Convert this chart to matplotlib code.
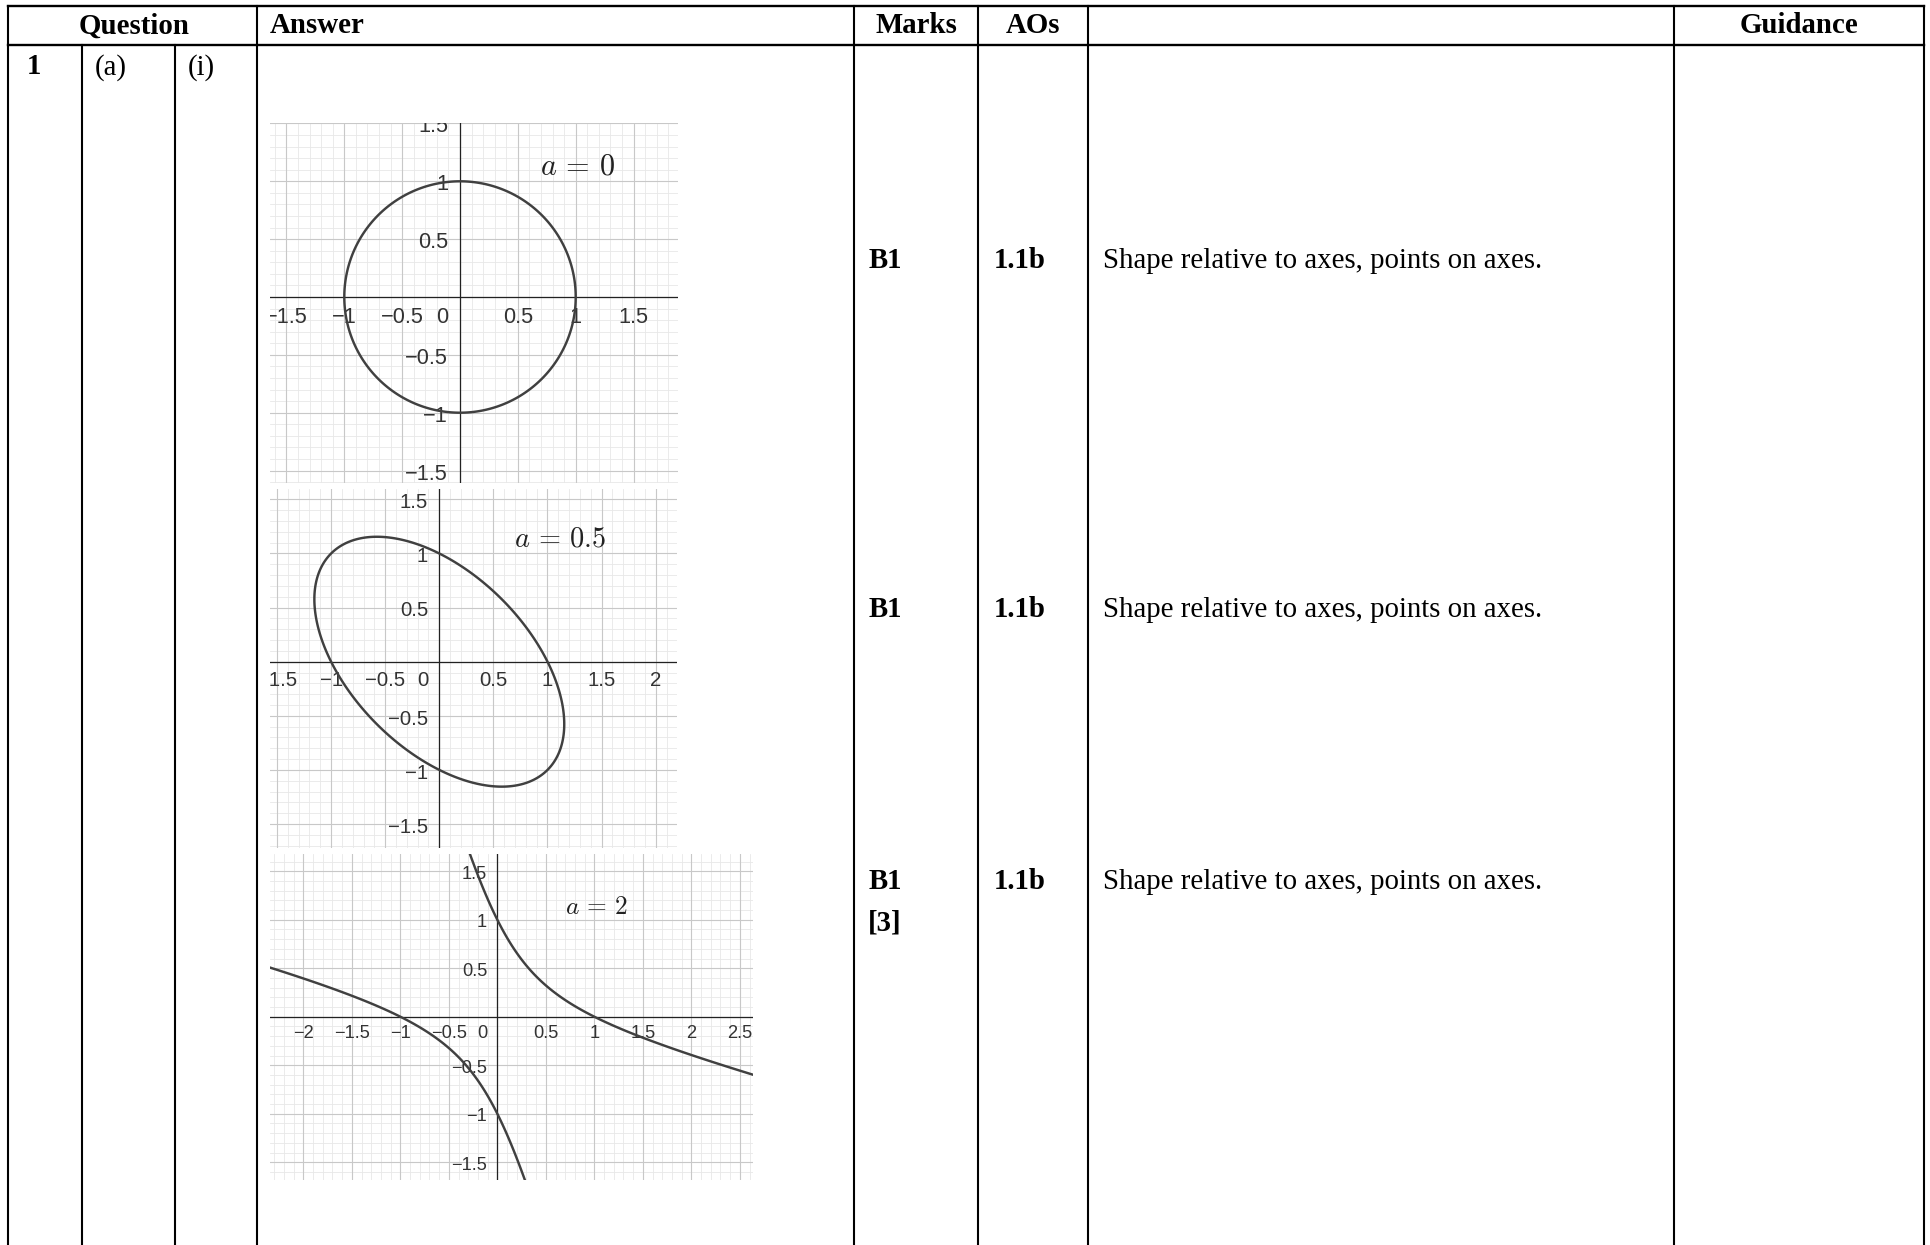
import numpy as np
import matplotlib
matplotlib.use("Agg")
import matplotlib.pyplot as plt

plt.rcParams['mathtext.fontset'] = 'cm'

W, H = 1930, 1245

# ---------------- data ----------------
header_labels = ["Question", "Answer", "Marks", "AOs", "Guidance"]
question_parts = ["1", "(a)", "(i)"]
a_values = [0, 0.5, 2]
a_labels = [r"$a\,=\,0$", r"$a\,=\,0.5$", r"$a\,=\,2$"]
marks = ["B1", "B1", "B1"]
marks_total = "[3]"
aos = ["1.1b", "1.1b", "1.1b"]
guidance = ["Shape relative to axes, points on axes.",
            "Shape relative to axes, points on axes.",
            "Shape relative to axes, points on axes."]

# ---------------- layout (pixels) ----------------
panels = [
    dict(box=(270, 123, 678, 483), origin=(460.0, 297.0), unit=115.7),
    dict(box=(270, 489, 677, 848), origin=(439.3, 661.7), unit=108.2),
    dict(box=(270, 854, 753, 1180), origin=(497.3, 1016.7), unit=97.0),
]
row_baselines = [268.3, 617.0, 889.0]

fig = plt.figure(figsize=(W / 100, H / 100), dpi=100)
tab = fig.add_axes([0, 0, 1, 1])
tab.set_xlim(0, W)
tab.set_ylim(H, 0)
tab.axis('off')

LW = 1.5
top_y, head_y = 5.7, 45.0
left_x, right_x = 8, 1924
tab.plot([left_x, right_x], [top_y, top_y], color='black', lw=1.7, solid_capstyle='projecting')
tab.plot([left_x, right_x], [head_y, head_y], color='black', lw=1.7, solid_capstyle='projecting')
for x in [left_x, 257, 854, 978, 1088, 1674, right_x]:
    tab.plot([x, x], [top_y, H + 5], color='black', lw=LW)
for x in [82, 174.5]:
    tab.plot([x, x], [head_y, H + 5], color='black', lw=LW)

serif = 'Liberation Serif'
FS = 20.8
hb = 33.3
tab.text(134, hb, header_labels[0], ha='center', va='baseline', fontsize=FS, fontweight='bold', family=serif)
tab.text(270, hb, header_labels[1], ha='left', va='baseline', fontsize=FS, fontweight='bold', family=serif)
tab.text(916, hb, header_labels[2], ha='center', va='baseline', fontsize=FS, fontweight='bold', family=serif)
tab.text(1033, hb, header_labels[3], ha='center', va='baseline', fontsize=FS, fontweight='bold', family=serif)
tab.text(1799, hb, header_labels[4], ha='center', va='baseline', fontsize=FS, fontweight='bold', family=serif)

qb = 74.5
tab.text(27, qb, question_parts[0], ha='left', va='baseline', fontsize=FS, fontweight='bold', family=serif)
tab.text(95, qb, question_parts[1], ha='left', va='baseline', fontsize=FS, family=serif)
tab.text(188, qb, question_parts[2], ha='left', va='baseline', fontsize=FS, family=serif)

for i, yb in enumerate(row_baselines):
    tab.text(868.3, yb, marks[i], ha='left', va='baseline', fontsize=FS, fontweight='bold', family=serif)
    tab.text(994, yb, aos[i], ha='left', va='baseline', fontsize=FS, fontweight='bold', family=serif)
    tab.text(1103.3, yb, guidance[i], ha='left', va='baseline', fontsize=FS, family=serif)
tab.text(868.3, 931, marks_total, ha='left', va='baseline', fontsize=FS, fontweight='bold', family=serif)


def fmt(v):
    s = ('%g' % abs(v))
    return ('\u2212' + s) if v < 0 else s


for p, a, lab in zip(panels, a_values, a_labels):
    x0, y0, x1, y1 = p['box']
    ox, oy = p['origin']
    u = p['unit']
    xlim = ((x0 - ox) / u, (x1 - ox) / u)
    ylim = ((oy - y1) / u, (oy - y0) / u)
    ax = fig.add_axes([x0 / W, 1 - y1 / H, (x1 - x0) / W, (y1 - y0) / H])
    ax.set_xlim(*xlim)
    ax.set_ylim(*ylim)
    for s in ax.spines.values():
        s.set_visible(False)
    ax.set_xticks([])
    ax.set_yticks([])
    ax.patch.set_alpha(0)

    minor_x = np.arange(np.ceil(xlim[0] * 10), np.floor(xlim[1] * 10) + 1) / 10
    minor_y = np.arange(np.ceil(ylim[0] * 10), np.floor(ylim[1] * 10) + 1) / 10
    major_x = np.arange(np.ceil(xlim[0] * 2), np.floor(xlim[1] * 2) + 1) / 2
    major_y = np.arange(np.ceil(ylim[0] * 2), np.floor(ylim[1] * 2) + 1) / 2
    for v in minor_x:
        ax.axvline(v, color='#e8e8e8', lw=0.6, zorder=0)
    for v in minor_y:
        ax.axhline(v, color='#e8e8e8', lw=0.6, zorder=0)
    for v in major_x:
        ax.axvline(v, color='#c8c8c8', lw=0.8, zorder=0.5)
    for v in major_y:
        ax.axhline(v, color='#c8c8c8', lw=0.8, zorder=0.5)
    ax.axhline(0, color='#222222', lw=0.9, zorder=1)
    ax.axvline(0, color='#222222', lw=0.9, zorder=1)

    # implicit curve x^2 + 2a xy + y^2 = 1
    gx = np.linspace(xlim[0] - 0.2, xlim[1] + 0.2, 1400)
    gy = np.linspace(ylim[0] - 0.2, ylim[1] + 0.2, 1400)
    X, Y = np.meshgrid(gx, gy)
    F = X ** 2 + 2 * a * X * Y + Y ** 2
    ax.contour(X, Y, F, levels=[1.0], colors='#404040', linewidths=1.75, zorder=3)

    lfs = 0.176 * u * 0.72 * 1.07
    off_top = 10.0 / 115.7
    off_right = 12.0 / 115.7
    for v in major_x:
        if v == 0:
            continue
        ax.text(v, -off_top, fmt(v), ha='center', va='top', fontsize=lfs,
                family='Liberation Sans', color='#333333', clip_on=True, zorder=2)
    ax.text(-off_right, -off_top, '0', ha='right', va='top', fontsize=lfs,
            family='Liberation Sans', color='#333333', clip_on=True, zorder=2)
    for v in major_y:
        if v == 0:
            continue
        ax.text(-off_right, v - 0.03, fmt(v), ha='right', va='center', fontsize=lfs,
                family='Liberation Sans', color='#333333', clip_on=True, zorder=2)

    ax.text(0.695, 1.135, lab, ha='left', va='center', fontsize=0.262 * u * 0.72,
            color='#222222', zorder=4)

fig.savefig('out.png', dpi=100)
